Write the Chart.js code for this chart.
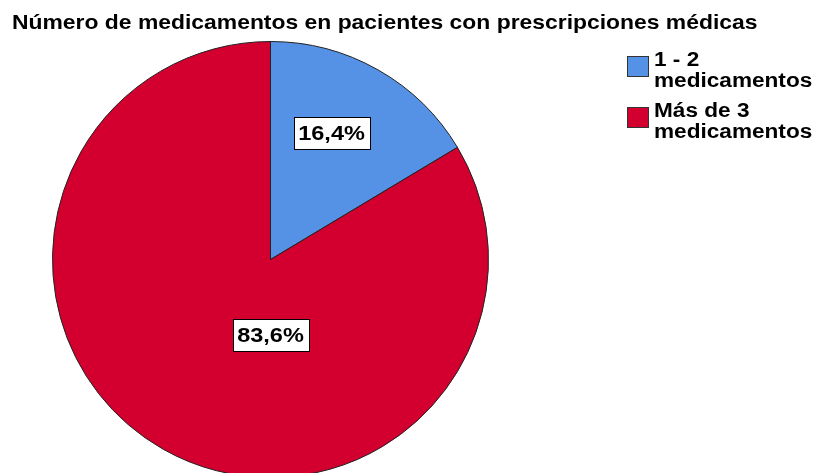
<!DOCTYPE html>
<html>
<head>
<meta charset="utf-8">
<script src="https://cdn.jsdelivr.net/npm/chart.js@4.4.0/dist/chart.umd.min.js"></script>
<style>
  html, body { margin: 0; padding: 0; background: #fff; overflow: hidden; }
  #wrap { width: 819px; height: 473px; overflow: hidden; }
</style>
</head>
<body>
<div id="wrap"><canvas id="grafico" width="819" height="500"></canvas></div>
<script>
// Datos del gráfico
const titulo = 'Número de medicamentos en pacientes con prescripciones médicas';
const categorias = [['1 - 2', 'medicamentos'], ['Más de 3', 'medicamentos']];
const porcentajes = [16.4, 83.6];
const colores = ['#5592e6', '#d3002f'];

// Posición de las etiquetas relativa al centro, en fracciones del radio
const posEtiquetas = [[0.28, -0.58], [0, 0.345]];

const FUENTE = '"Liberation Sans", Arial, sans-serif';

// Texto algo ensanchado horizontalmente, como en el original
function textoAncho(ctx, texto, x, y, escala) {
    ctx.save();
    ctx.translate(x, y);
    ctx.scale(escala, 1);
    ctx.fillText(texto, 0, 0);
    ctx.restore();
}

// Plugin para dibujar título, leyenda y etiquetas de porcentaje
const decoracion = {
    id: 'decoracion',
    afterDraw(chart) {
        const ctx = chart.ctx;
        ctx.save();

        // Título
        ctx.fillStyle = '#000';
        ctx.font = 'bold 21px ' + FUENTE;
        ctx.textBaseline = 'alphabetic';
        ctx.textAlign = 'left';
        textoAncho(ctx, titulo, 12, 29, 1.09);

        // Leyenda
        ctx.font = 'bold 20px ' + FUENTE;
        categorias.forEach((lineas, i) => {
            const y0 = 57 + i * 51;
            ctx.fillStyle = colores[i];
            ctx.fillRect(628, y0, 20, 20);
            ctx.strokeStyle = '#333';
            ctx.lineWidth = 1;
            ctx.strokeRect(627.5, y0 - 0.5, 21, 20);
            ctx.fillStyle = '#000';
            lineas.forEach((t, j) => {
                textoAncho(ctx, t, 654, y0 + 9 + j * 21, 1.13);
            });
        });

        // Etiquetas de porcentaje
        const meta = chart.getDatasetMeta(0);
        ctx.font = 'bold 21px ' + FUENTE;
        ctx.textAlign = 'left';
        ctx.textBaseline = 'middle';
        const esc = 1.12;
        meta.data.forEach((arco, i) => {
            const r = arco.outerRadius;
            const x = arco.x + posEtiquetas[i][0] * r;
            const y = arco.y + posEtiquetas[i][1] * r;
            const texto = porcentajes[i].toFixed(1).replace('.', ',') + '%';
            const tw = ctx.measureText(texto).width * esc;
            const w = Math.round(tw + 9);
            const h = 32;
            const bx = Math.round(x - w / 2);
            const by = Math.round(y - h / 2);
            ctx.fillStyle = '#fff';
            ctx.fillRect(bx, by, w, h);
            ctx.strokeStyle = '#000';
            ctx.strokeRect(bx + 0.5, by + 0.5, w, h);
            ctx.fillStyle = '#000';
            textoAncho(ctx, texto, x - tw / 2, y + 1, esc);
        });

        ctx.restore();
    }
};

new Chart(document.getElementById('grafico'), {
    type: 'pie',
    data: {
        labels: categorias.map(l => l.join(' ')),
        datasets: [{
            data: porcentajes,
            backgroundColor: colores,
            borderColor: '#222',
            borderWidth: 1
        }]
    },
    options: {
        responsive: false,
        devicePixelRatio: 1,
        animation: false,
        layout: {
            padding: { left: 52, top: 41, right: 330, bottom: 22 }
        },
        plugins: {
            legend: { display: false },
            title: { display: false },
            tooltip: { enabled: false }
        }
    },
    plugins: [decoracion]
});
</script>
</body>
</html>
